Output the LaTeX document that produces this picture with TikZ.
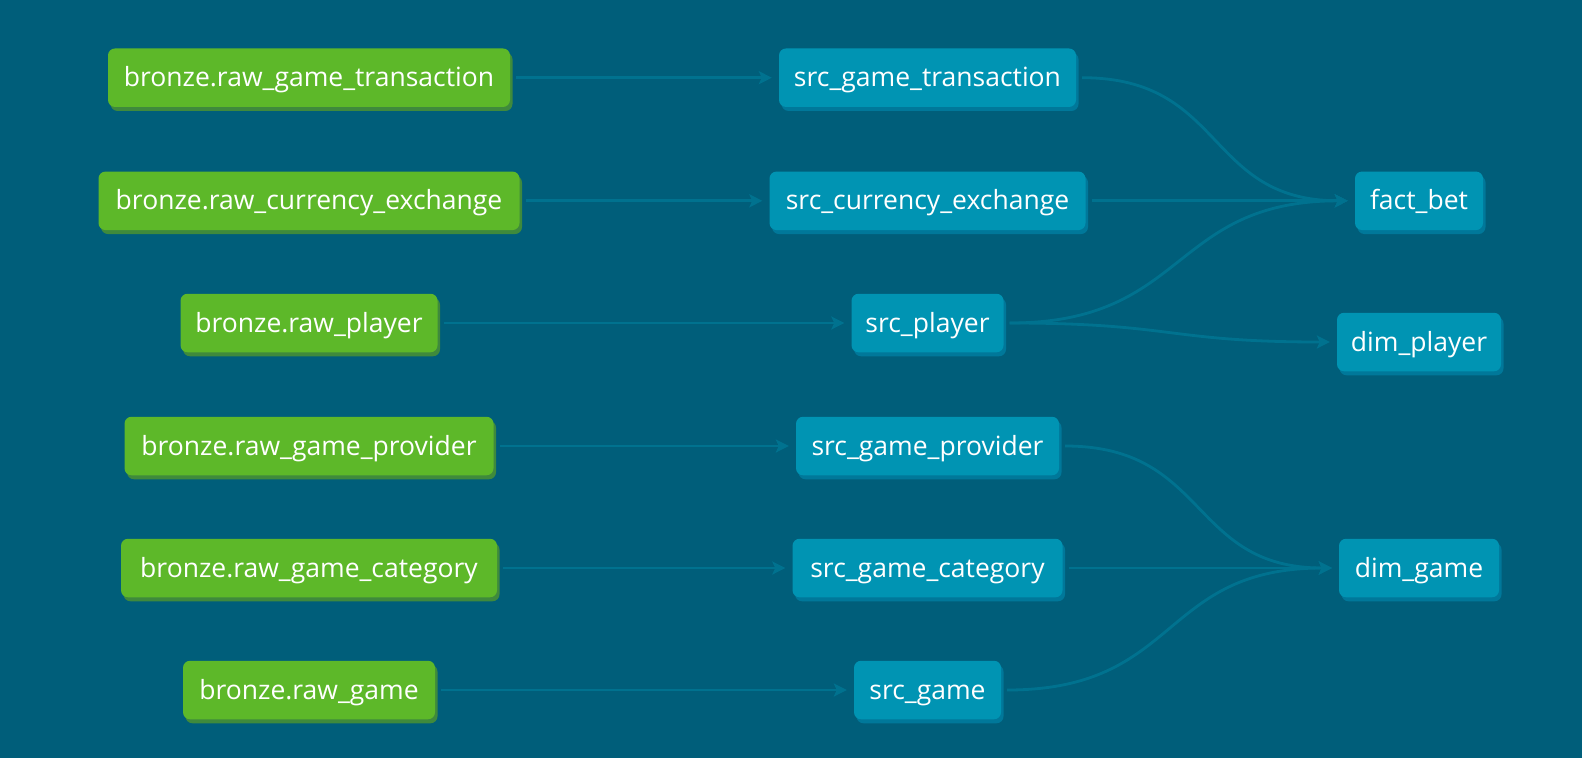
\documentclass[tikz,border=0pt]{standalone}
\usepackage{fontspec}
\setmainfont{Open Sans}
\usetikzlibrary{arrows.meta,shadows}
\definecolor{bg}{HTML}{005E7A}
\definecolor{bronzefill}{HTML}{5DB829}
\definecolor{bronzeshade}{HTML}{3F8A3C}
\definecolor{srcfill}{HTML}{0094B3}
\definecolor{srcshade}{HTML}{00789A}
\definecolor{edgecol}{HTML}{00728F}
\tikzset{
  basebox/.style={rounded corners=7pt, minimum height=58.5pt, inner sep=0pt,
    text=white, font=\fontsize{26.5}{30}\selectfont, text height=22pt, text depth=4pt},
  bronzebox/.style={basebox, fill=bronzefill,
    drop shadow={shadow xshift=2.5pt, shadow yshift=-4pt, fill=bronzeshade, opacity=1}},
  srcbox/.style={basebox, fill=srcfill,
    drop shadow={shadow xshift=2.5pt, shadow yshift=-4pt, fill=srcshade, opacity=1}},
  link/.style={draw=edgecol, line width=2.8pt,
    -{Stealth[length=13pt,width=13pt,inset=3pt]}, shorten <=6pt, shorten >=7pt},
}
% #1 source, #2 target, #3 control distance
\newcommand{\curvelink}[3]{%
  \draw[link] (#1.east) .. controls +(#3,0) and +(-#3,0) .. (#2.west);}
\begin{document}
\begin{tikzpicture}[x=1pt,y=-1pt]
\fill[bg] (0,0) rectangle (1582,758);
\useasboundingbox (0,0) rectangle (1582,758);
% bronze column
\node[bronzebox, minimum width=402pt] (b1) at (309,77.7) {bronze.raw\_game\_transaction};
\node[bronzebox, minimum width=421pt] (b2) at (309,200.8) {bronze.raw\_currency\_exchange};
\node[bronzebox, minimum width=257pt] (b3) at (309,323) {bronze.raw\_player};
\node[bronzebox, minimum width=369pt] (b4) at (309,446) {bronze.raw\_game\_provider};
\node[bronzebox, minimum width=376pt] (b5) at (309,568) {bronze.raw\_game\_category};
\node[bronzebox, minimum width=252pt] (b6) at (309,690) {bronze.raw\_game};
% src column
\node[srcbox, minimum width=297pt] (s1) at (927.5,77.7) {src\_game\_transaction};
\node[srcbox, minimum width=316pt] (s2) at (927.5,200.8) {src\_currency\_exchange};
\node[srcbox, minimum width=152pt] (s3) at (927.5,323) {src\_player};
\node[srcbox, minimum width=263pt] (s4) at (927.5,446) {src\_game\_provider};
\node[srcbox, minimum width=270pt] (s5) at (927.5,568) {src\_game\_category};
\node[srcbox, minimum width=147pt] (s6) at (927.5,690) {src\_game};
% marts
\node[srcbox, minimum width=128pt] (fb) at (1419,200.8) {fact\_bet};
\node[srcbox, minimum width=164pt] (dp) at (1419,342) {dim\_player};
\node[srcbox, minimum width=160pt] (dg) at (1419,568) {dim\_game};
% edges
\draw[link] (b1) -- (s1);
\draw[link] (b2) -- (s2);
\draw[link] (b3) -- (s3);
\draw[link] (b4) -- (s4);
\draw[link] (b5) -- (s5);
\draw[link] (b6) -- (s6);
\curvelink{s1}{fb}{150}
\curvelink{s2}{fb}{140}
\curvelink{s3}{fb}{185}
\curvelink{s3}{dp}{170}
\curvelink{s4}{dg}{150}
\curvelink{s5}{dg}{140}
\curvelink{s6}{dg}{180}
\end{tikzpicture}
\end{document}
